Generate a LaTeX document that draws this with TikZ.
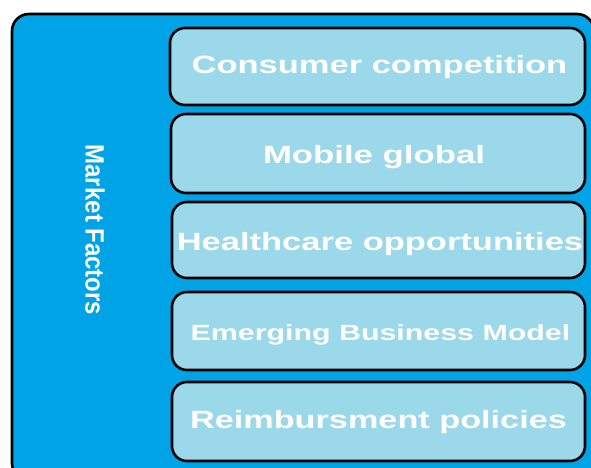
\documentclass[tikz,border=0pt]{standalone}
\usepackage{fontspec}
\setmainfont{Liberation Sans}
\definecolor{outerblue}{HTML}{00A3E6}
\definecolor{innerblue}{HTML}{9AD8EA}
\begin{document}
\begin{tikzpicture}[x=1pt,y=-1pt,
  outerbox/.style={draw=black, line width=2.6pt, fill=outerblue, rounded corners=17pt},
  factorbox/.style={draw=black, line width=2.6pt, fill=innerblue, rounded corners=15pt},
  factortext/.style={text=white, font=\bfseries, inner sep=0pt, anchor=base}]
\useasboundingbox (0,0) rectangle (591,467);
\begin{scope}
\clip (0,0) rectangle (591,467);
\draw[outerbox] (12,14) rectangle (594,480);
\end{scope}
\node[text=white, font=\bfseries, inner sep=0pt, rotate=-90] (mf) at (95,230) {\scalebox{1.0}[1.1]{\fontsize{24}{28}\selectfont Market Factors}};
\draw[factorbox] (170,28) rectangle (585,105);
\draw[factorbox] (171,114) rectangle (585,193);
\draw[factorbox] (172,202) rectangle (585,278);
\draw[factorbox] (172,292) rectangle (585,370);
\draw[factorbox] (172,382) rectangle (585,461);
\node[factortext] (t1) at (379.5,73) {\scalebox{1.38}[1]{\fontsize{25}{30}\selectfont Consumer competition}};
\node[factortext] (t2) at (374,163) {\scalebox{1.39}[1]{\fontsize{25}{30}\selectfont Mobile global}};
\node[factortext] (t3) at (380,250) {\scalebox{1.38}[1]{\fontsize{25}{30}\selectfont Healthcare opportunities}};
\node[factortext] (t4) at (380.5,340) {\scalebox{1.38}[1]{\fontsize{22}{26}\selectfont Emerging Business Model}};
\node[factortext] (t5) at (378.5,428) {\scalebox{1.37}[1]{\fontsize{25}{30}\selectfont Reimbursment policies}};
\end{tikzpicture}
\end{document}
